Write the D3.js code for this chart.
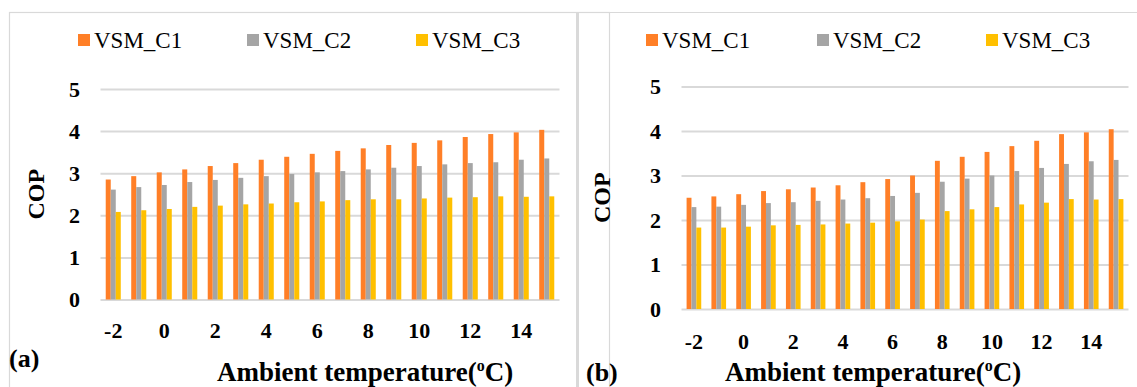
<!DOCTYPE html>
<html>
<head>
<meta charset="utf-8">
<script src="https://cdn.jsdelivr.net/npm/d3@7"></script>
<style>
  body { margin: 0; background: #fff; }
  svg { display: block; }
  text { font-family: "Liberation Serif", "Times New Roman", serif; fill: #000; }
</style>
</head>
<body>
<div id="chart"></div>
<script>
// ambient temperature categories (oC)
var temps = [-2, -1, 0, 1, 2, 3, 4, 5, 6, 7, 8, 9, 10, 11, 12, 13, 14, 15];
var tickTemps = [-2, 0, 2, 4, 6, 8, 10, 12, 14];
var yTicks = [0, 1, 2, 3, 4, 5];
var seriesNames = ["VSM_C1", "VSM_C2", "VSM_C3"];
var colors = ["#ff7f27", "#a5a5a5", "#ffc000"];

// panel (a)
var a_C1 = [2.85, 2.93, 3.02, 3.09, 3.17, 3.24, 3.32, 3.39, 3.46, 3.53, 3.59, 3.67, 3.72, 3.78, 3.86, 3.93, 3.97, 4.03];
var a_C2 = [2.61, 2.67, 2.72, 2.79, 2.84, 2.89, 2.93, 2.98, 3.02, 3.05, 3.09, 3.13, 3.17, 3.21, 3.24, 3.26, 3.32, 3.35];
var a_C3 = [2.08, 2.12, 2.15, 2.20, 2.23, 2.26, 2.28, 2.31, 2.33, 2.36, 2.38, 2.38, 2.40, 2.42, 2.43, 2.45, 2.44, 2.45];

// panel (b)
var b_C1 = [2.50, 2.53, 2.58, 2.65, 2.69, 2.73, 2.78, 2.85, 2.92, 3.00, 3.33, 3.42, 3.53, 3.66, 3.78, 3.93, 3.97, 4.04];
var b_C2 = [2.29, 2.30, 2.34, 2.38, 2.40, 2.43, 2.46, 2.49, 2.54, 2.61, 2.86, 2.93, 3.00, 3.10, 3.17, 3.26, 3.32, 3.35];
var b_C3 = [1.83, 1.83, 1.85, 1.88, 1.89, 1.90, 1.92, 1.94, 1.97, 2.01, 2.20, 2.24, 2.29, 2.35, 2.39, 2.47, 2.46, 2.47];

var W = 1137, H = 387;

var svg = d3.select("#chart").append("svg")
    .attr("width", W)
    .attr("height", H);

svg.append("rect").attr("width", W).attr("height", H).attr("fill", "#fff");

// panel frames
svg.append("rect")
    .attr("x", 9.5).attr("y", 12.5)
    .attr("width", 600).attr("height", 400)
    .attr("fill", "none").attr("stroke", "#d9d9d9").attr("stroke-width", 1.2);
svg.append("line")
    .attr("x1", 9.5).attr("x2", W).attr("y1", 12.5).attr("y2", 12.5)
    .attr("stroke", "#d9d9d9").attr("stroke-width", 1.2);
svg.append("line")
    .attr("x1", 577.5).attr("x2", 577.5).attr("y1", 12).attr("y2", H)
    .attr("stroke", "#d9d9d9").attr("stroke-width", 3);

function drawPanel(p) {
    var g = svg.append("g");

    var x = d3.scaleBand()
        .domain(temps)
        .range([p.x0, p.x1])
        .paddingInner(0.41)
        .paddingOuter(0.205);

    var xs = d3.scaleBand()
        .domain(seriesNames)
        .range([0, x.bandwidth()]);

    var y = d3.scaleLinear()
        .domain([0, 5])
        .range([p.y0, p.y5]);

    // gridlines
    g.append("g")
        .attr("transform", "translate(" + p.x0 + ",0)")
        .call(d3.axisLeft(y).tickValues(yTicks).tickSize(-(p.x1 - p.x0)).tickFormat(""))
        .call(function (s) {
            s.select(".domain").remove();
            s.selectAll("line").attr("stroke", "#d9d9d9").attr("stroke-width", 2);
        });

    // y labels
    g.selectAll(".ylab")
        .data(yTicks)
        .enter().append("text")
        .attr("x", p.ylabX)
        .attr("y", function (d) { return y(d); })
        .attr("dy", "0.35em")
        .attr("text-anchor", "end")
        .attr("font-size", 22)
        .attr("font-weight", "bold")
        .text(function (d) { return d; });

    // bars
    var series = [p.c1, p.c2, p.c3];
    series.forEach(function (vals, si) {
        g.selectAll(".bar" + si)
            .data(vals)
            .enter().append("rect")
            .attr("x", function (d, i) { return x(temps[i]) + xs(seriesNames[si]); })
            .attr("width", xs.bandwidth())
            .attr("y", function (d) { return y(d); })
            .attr("height", function (d) { return y(0) - y(d); })
            .attr("fill", colors[si]);
    });

    // x labels
    g.selectAll(".xlab")
        .data(tickTemps)
        .enter().append("text")
        .attr("x", function (d) { return x(d) + x.bandwidth() / 2; })
        .attr("y", p.xlabY)
        .attr("dy", "0.35em")
        .attr("text-anchor", "middle")
        .attr("font-size", 22)
        .attr("font-weight", "bold")
        .text(function (d) { return d; });

    // axis titles
    var t = g.append("text")
        .attr("x", p.titleX)
        .attr("y", p.titleY)
        .attr("font-size", 27)
        .attr("font-weight", "bold");
    t.append("tspan").text("Ambient temperature(");
    t.append("tspan").attr("font-size", 16).attr("dy", -10).text("o");
    t.append("tspan").attr("dy", 10).text("C)");

    g.append("text")
        .attr("transform", "translate(" + p.copX + "," + ((p.y0 + p.y5) / 2) + ") rotate(-90)")
        .attr("text-anchor", "middle")
        .attr("font-size", 24)
        .attr("font-weight", "bold")
        .text("COP");

    g.append("text")
        .attr("x", p.tagX)
        .attr("y", p.tagY)
        .attr("font-size", 26)
        .attr("font-weight", "bold")
        .text(p.tag);

    // legend
    var leg = g.selectAll(".leg")
        .data(seriesNames)
        .enter().append("g")
        .attr("transform", function (d, i) { return "translate(" + p.legX[i] + ",34)"; });
    leg.append("rect")
        .attr("width", 12).attr("height", 12)
        .attr("fill", function (d, i) { return colors[i]; });
    leg.append("text")
        .attr("x", 16)
        .attr("y", 14)
        .attr("font-size", 23)
        .text(function (d) { return d; });
}

drawPanel({
    c1: a_C1, c2: a_C2, c3: a_C3,
    x0: 100.5, x1: 559.5, y0: 299.5, y5: 89,
    ylabX: 80, xlabY: 330,
    titleX: 217, titleY: 381,
    copX: 44, tag: "(a)", tagX: 9, tagY: 367,
    legX: [78, 247, 416]
});

drawPanel({
    c1: b_C1, c2: b_C2, c3: b_C3,
    x0: 681.5, x1: 1128.5, y0: 309, y5: 86.5,
    ylabX: 661, xlabY: 341,
    titleX: 725, titleY: 381,
    copX: 610, tag: "(b)", tagX: 586, tagY: 381,
    legX: [646, 817, 986]
});
</script>
</body>
</html>
